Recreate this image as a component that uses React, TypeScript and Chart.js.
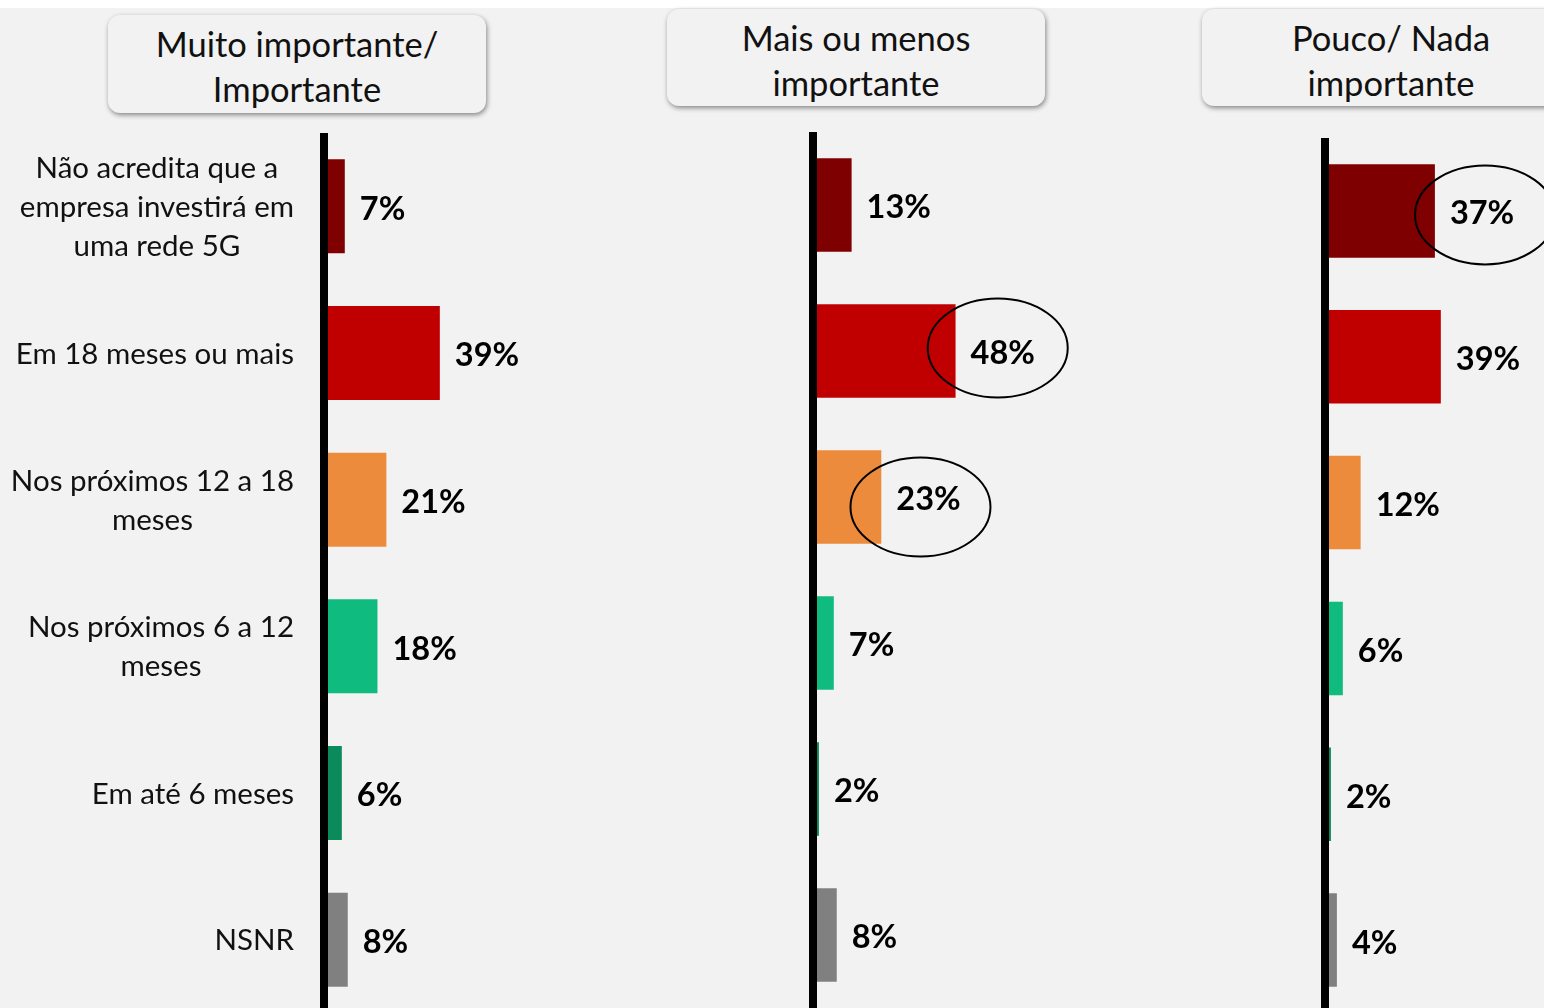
import { useEffect, useRef } from "react";
import { Chart, registerables } from "chart.js";

Chart.register(...registerables);

// ---- data ----
const categories: string[][] = [
  ["Não acredita que a", "empresa investirá em", "uma rede 5G"],
  ["Em 18 meses ou mais"],
  ["Nos próximos 12 a 18", "meses"],
  ["Nos próximos 6 a 12", "meses"],
  ["Em até 6 meses"],
  ["NSNR"],
];
const panelTitles: string[][] = [
  ["Muito importante/", "Importante"],
  ["Mais ou menos", "importante"],
  ["Pouco/ Nada", "importante"],
];
const muitoImportante = [7, 39, 21, 18, 6, 8];
const maisOuMenos = [13, 48, 23, 7, 2, 8];
const poucoNada = [37, 39, 12, 6, 2, 4];
const barColors = ["#7f0000", "#c00000", "#ed8b3d", "#0fbb7e", "#0b8b5b", "#808080"];

const FONT = "Lato, 'Open Sans', sans-serif";

const labelPlugin = {
  id: "valueLabels",
  afterDatasetsDraw(chart: any, _args: any, opts: any) {
    const ctx = chart.ctx;
    const meta = chart.getDatasetMeta(0);
    const data = chart.data.datasets[0].data as number[];
    ctx.save();
    ctx.font = `bold 32.5px ${FONT}`;
    ctx.fillStyle = "#000";
    ctx.textBaseline = "middle";
    ctx.textAlign = "left";
    meta.data.forEach((bar: any, i: number) => {
      const t = data[i] + "%";
      const x = bar.x + 15;
      ctx.fillText(t, x, bar.y + 3);
      const h = (opts.highlights || []).find((hh: any) => hh.index === i);
      if (h) {
        const w = ctx.measureText(t).width;
        ctx.beginPath();
        ctx.ellipse(x + w / 2 + h.dx, bar.y + h.dy, 70, 49.5, 0, 0, Math.PI * 2);
        ctx.lineWidth = 2;
        ctx.strokeStyle = "#000";
        ctx.stroke();
      }
    });
    if (opts.showCategories) {
      const yScale = chart.scales.y;
      ctx.font = `29.5px ${FONT}`;
      ctx.fillStyle = "#111";
      ctx.textAlign = "center";
      const labels = chart.data.labels as string[][];
      labels.forEach((lines: string[], i: number) => {
        const y = yScale.getPixelForValue(i);
        const maxW = Math.max(...lines.map((l) => ctx.measureText(l).width));
        const cx = opts.labelRight - maxW / 2;
        const lh = 39;
        const y0 = y - ((lines.length - 1) * lh) / 2;
        lines.forEach((l, k) => ctx.fillText(l, cx, y0 + k * lh + 1));
      });
    }
    ctx.restore();
  },
};

function Panel(props: {
  values: number[];
  left: number;
  top: number;
  axisLeft: number;
  height: number;
  showCategories?: boolean;
  highlights?: { index: number; dx: number; dy: number }[];
}) {
  const ref = useRef<HTMLCanvasElement | null>(null);
  const width = props.axisLeft + 297;
  useEffect(() => {
    const chart = new Chart(ref.current as HTMLCanvasElement, {
      type: "bar",
      data: {
        labels: categories as any,
        datasets: [
          {
            data: props.values,
            backgroundColor: barColors,
            borderWidth: 0,
            barPercentage: 0.641,
            categoryPercentage: 1,
          },
        ],
      },
      options: {
        indexAxis: "y",
        responsive: false,
        animation: false,
        devicePixelRatio: 1,
        layout: { padding: 0 },
        plugins: {
          legend: { display: false },
          tooltip: { enabled: false },
          valueLabels: {
            highlights: props.highlights || [],
            showCategories: !!props.showCategories,
            labelRight: 294,
          },
        } as any,
        scales: {
          x: { display: false, min: 0, max: 100 },
          y: {
            type: "category",
            grid: { display: false },
            ticks: { display: false },
            border: { display: true, color: "#000", width: 8, z: 1 },
            afterFit: (s: any) => {
              s.width = props.axisLeft;
            },
          },
        },
      },
      plugins: [labelPlugin],
    });
    document.fonts && document.fonts.ready.then(() => chart.update());
    return () => chart.destroy();
  }, []);
  return (
    <canvas
      ref={ref}
      width={width}
      height={props.height}
      style={{ position: "absolute", left: props.left, top: props.top, width, height: props.height }}
    />
  );
}

function Header(props: { lines: string[]; left: number; top: number; height: number }) {
  return (
    <div
      style={{
        position: "absolute",
        left: props.left,
        top: props.top,
        width: 378,
        height: props.height,
        borderRadius: 12,
        background: "#f2f2f2",
        boxShadow: "1px 2px 5px rgba(0,0,0,0.45)",
        fontFamily: FONT,
        fontSize: 34.5,
        lineHeight: "45px",
        textAlign: "center",
        color: "#111",
        paddingTop: 6,
        boxSizing: "border-box",
      }}
    >
      {props.lines.map((l, i) => (
        <div key={i}>{l}</div>
      ))}
    </div>
  );
}

export default function App() {
  return (
    <div
      style={{
        position: "absolute",
        left: 0,
        top: 0,
        width: 1544,
        height: 1008,
        overflow: "hidden",
        background: "#fff",
      }}
    >
      <div style={{ position: "absolute", left: 0, top: 8, width: 1544, height: 1000, background: "#f2f2f2" }} />
      <Header lines={panelTitles[0]} left={108} top={15} height={98} />
      <Header lines={panelTitles[1]} left={667} top={9} height={97} />
      <Header lines={panelTitles[2]} left={1202} top={9} height={97} />
      <Panel values={muitoImportante} left={0} top={133} axisLeft={324} height={880} showCategories />
      <Panel
        values={maisOuMenos}
        left={700}
        top={132}
        axisLeft={113}
        height={876}
        highlights={[
          { index: 1, dx: -5, dy: -3 },
          { index: 2, dx: -8, dy: 10 },
        ]}
      />
      <Panel
        values={poucoNada}
        left={1200}
        top={138}
        axisLeft={125}
        height={875}
        highlights={[{ index: 0, dx: 3, dy: 4 }]}
      />
    </div>
  );
}
